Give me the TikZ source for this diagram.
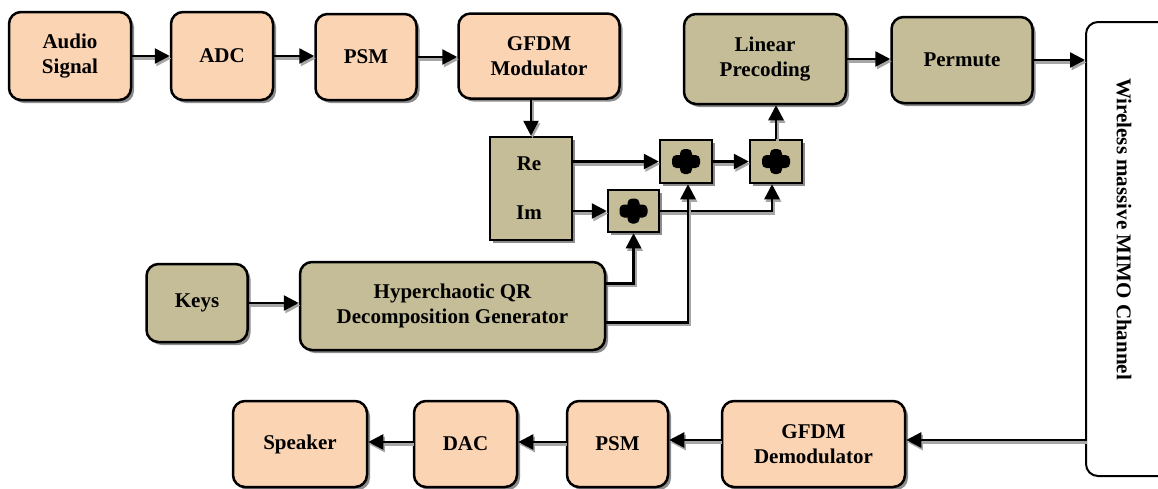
\documentclass[tikz,border=0pt]{standalone}
\usepackage{fontspec}
\setmainfont{Liberation Serif}
\usetikzlibrary{arrows.meta,shadows,calc}
\definecolor{peach}{HTML}{FBD4B4}
\definecolor{khaki}{HTML}{C4BD97}
\begin{document}
\begin{tikzpicture}[x=1pt,y=-1pt,
  font=\fontsize{21}{25}\selectfont\bfseries,
  shadowed/.style={drop shadow={shadow xshift=3pt,shadow yshift=-3pt,fill=black!45,opacity=1}},
  blk/.style={draw=black,line width=2.5pt,rounded corners=12pt,align=center,inner sep=0pt,shadowed},
  audio/.style={blk,fill=peach},
  crypt/.style={blk,fill=khaki},
  sqbox/.style={draw=black,line width=2.5pt,fill=khaki,inner sep=0pt,shadowed},
  adder/.style={sqbox,minimum width=52pt,minimum height=43pt,
    path picture={
      \fill[black,rounded corners=4.5pt]
        ([xshift=-14pt,yshift=-6.5pt]path picture bounding box.center) rectangle ([xshift=14pt,yshift=6.5pt]path picture bounding box.center)
        ([xshift=-6pt,yshift=-12.5pt]path picture bounding box.center) rectangle ([xshift=6pt,yshift=12.5pt]path picture bounding box.center);}},
  conn/.style={line width=2.5pt,-{Triangle[length=15pt,width=15pt]},
    preaction={draw=black!35,line width=3pt,transform canvas={xshift=1.5pt,yshift=-2.5pt}}}
]
\useasboundingbox (0,0) rectangle (1158,488);

% transmitter chain
\node[audio,minimum width=122pt,minimum height=88pt] (aud) at (70,56) {Audio\\Signal};
\node[audio,minimum width=102pt,minimum height=88pt] (adc) at (222,56) {ADC};
\node[audio,minimum width=101pt,minimum height=86pt] (psm) at (366,57) {PSM};
\node[audio,minimum width=161pt,minimum height=85pt] (gmod) at (539,56) {GFDM\\Modulator};
\node[crypt,minimum width=162pt,minimum height=90pt] (lin) at (765,59) {Linear\\Precoding};
\node[crypt,minimum width=141pt,minimum height=86pt] (perm) at (962,60) {Permute};

% channel
\node[draw=black,line width=2pt,rounded corners=12pt,fill=white,
      minimum width=84pt,minimum height=454pt,inner sep=0pt] (chan) at (1128,249) {};
\node[rotate=-90] (chantxt) at (1124,229) {Wireless massive MIMO Channel};

% real / imaginary split and adders
\node[sqbox,minimum width=82pt,minimum height=103pt] (reim) at (531,188.5) {};
\node (re) at (529,164) {Re};
\node (im) at (529,213) {Im};
\node[adder] (add1) at (686,161.5) {};
\node[adder] (add2) at (776,161.5) {};
\node[adder,minimum width=51pt,minimum height=42pt] (add3) at (633.5,211) {};

% key generation
\node[crypt,minimum width=101pt,minimum height=78pt] (keys) at (197,303) {Keys};
\node[crypt,minimum width=305pt,minimum height=88pt] (hyp) at (452.5,306) {Hyperchaotic QR\\Decomposition Generator};

% receiver chain
\node[audio,minimum width=134pt,minimum height=86pt] (spk) at (300,444) {Speaker};
\node[audio,minimum width=103pt,minimum height=86pt] (dac) at (465.5,444) {DAC};
\node[audio,minimum width=101pt,minimum height=86pt] (psm2) at (617.5,444) {PSM};
\node[audio,minimum width=183pt,minimum height=86pt] (dem) at (813.5,444) {GFDM\\Demodulator};

% connectors
\draw[conn] (aud.east) -- (adc.west);
\draw[conn] (adc.east) -- (adc.east -| psm.west);
\draw[conn] (psm.east) -- (psm.east -| gmod.west);
\draw[conn] (lin.east) -- (lin.east -| perm.west);
\draw[conn] (perm.east) -- (perm.east -| chan.west);
\draw[conn] (reim.north |- gmod.south) -- (reim.north);
\draw[conn] (reim.east |- add1) -- (add1.west);
\draw[conn] (reim.east |- add3) -- (add3.west);
\draw[conn] (add1.east) -- (add2.west);
\draw[conn] (add3.east) -| ([xshift=-4pt]add2.south);
\draw[conn] (add2.north) -- (add2.north |- lin.south);
\draw[conn] (keys.east) -- (keys.east -| hyp.west);
\draw[conn] ($(hyp.north east)!0.25!(hyp.south east)$) -| (add3.south);
\draw[conn] ($(hyp.north east)!0.68!(hyp.south east)$) -| ([xshift=2pt]add1.south);
\draw[conn] (chan.west |- 0,440) -- (dem.east |- 0,440);
\draw[conn] (dem.west |- 0,440) -- (psm2.east |- 0,440);
\draw[conn] (psm2.west |- 0,442) -- (dac.east |- 0,442);
\draw[conn] (dac.west |- 0,442) -- (spk.east |- 0,442);
\end{tikzpicture}
\end{document}
